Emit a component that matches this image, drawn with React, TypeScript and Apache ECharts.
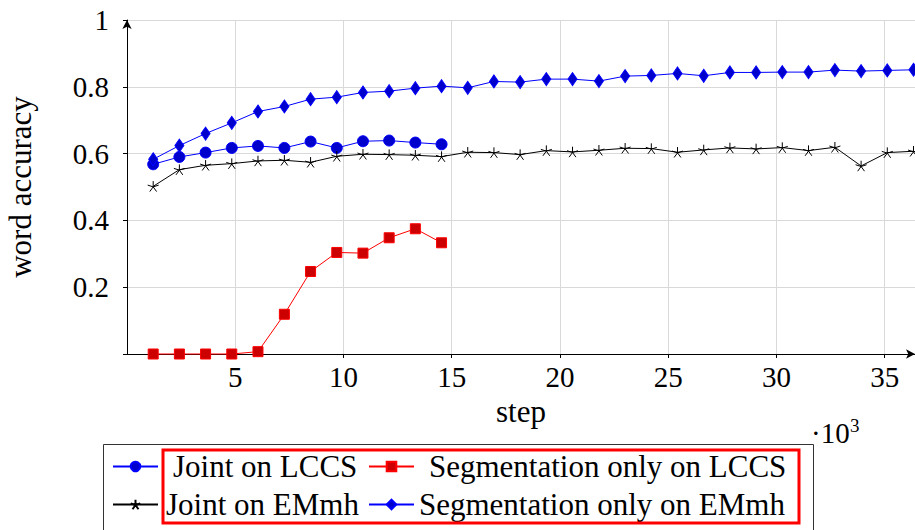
import React, { useEffect, useRef } from "react";
import * as echarts from "echarts";

// x positions (training step, in thousands) of the evaluated checkpoints
const steps = [
  1.21, 2.42, 3.63, 4.84, 6.05, 7.27, 8.48, 9.69, 10.9, 12.11, 13.32, 14.53, 15.74, 16.95, 18.16,
  19.37, 20.58, 21.8, 23.01, 24.22, 25.43, 26.64, 27.85, 29.06, 30.27, 31.48, 32.7, 33.91, 35.12, 36.33,
];

const jointLCCS = [0.568, 0.59, 0.603, 0.617, 0.623, 0.617, 0.636, 0.617, 0.637, 0.639, 0.633, 0.628];
const segLCCS = [0, 0, 0, 0, 0.007, 0.119, 0.247, 0.304, 0.302, 0.348, 0.375, 0.333];
const jointEMmh = [
  0.502, 0.552, 0.565, 0.57, 0.578, 0.58, 0.574, 0.592, 0.598, 0.597, 0.595, 0.591, 0.604, 0.603, 0.597,
  0.609, 0.605, 0.61, 0.616, 0.615, 0.604, 0.611, 0.617, 0.614, 0.618, 0.609, 0.619, 0.563, 0.603, 0.607,
];
const segEMmh = [
  0.583, 0.624, 0.66, 0.692, 0.726, 0.741, 0.763, 0.769, 0.783, 0.787, 0.796, 0.802, 0.797, 0.816, 0.814,
  0.823, 0.823, 0.817, 0.832, 0.834, 0.84, 0.833, 0.843, 0.843, 0.844, 0.844, 0.85, 0.847, 0.849, 0.851,
];

const seriesNames = [
  "Joint on LCCS",
  "Segmentation only on LCCS",
  "Joint on EMmh",
  "Segmentation only on EMmh",
];

const xTicks = [5, 10, 15, 20, 25, 30, 35];
const yTicks = [0.2, 0.4, 0.6, 0.8, 1];

const FONT = "Liberation Serif";
const STAR =
  "path://M0,-10 L0,0 M9.51,-3.09 L0,0 M5.88,8.09 L0,0 M-5.88,8.09 L0,0 M-9.51,-3.09 L0,0";

function pairs(vals: number[]) {
  return vals.map((v, i) => [steps[i], v]);
}

export default function App() {
  const ref = useRef<HTMLDivElement>(null);
  useEffect(() => {
    if (!ref.current) return;
    const chart = echarts.init(ref.current, undefined, { renderer: "svg" });
    const legendBase = {
      orient: "horizontal",
      padding: 0,
      itemWidth: 45,
      itemHeight: 12,
      textStyle: { fontFamily: FONT, fontSize: 31, color: "#000" },
    };
    chart.setOption({
      animation: false,
      backgroundColor: "#fff",
      grid: { left: 127, top: 20, right: 0, bottom: 176, containLabel: false, outerBoundsMode: "none" },
      xAxis: {
        type: "value",
        min: 0,
        max: 36.4,
        interval: 5,
        name: "step",
        nameLocation: "middle",
        nameGap: 39,
        nameTextStyle: { fontFamily: FONT, fontSize: 31, color: "#000" },
        axisLine: {
          show: true,
          onZero: false,
          symbol: ["none", "arrow"],
          symbolSize: [7, 9],
          lineStyle: { color: "#000", width: 1 },
        },
        axisTick: {
          show: true,
          length: 4,
          lineStyle: { color: "#000" },
          customValues: xTicks,
        },
        axisLabel: {
          fontFamily: FONT,
          fontSize: 29,
          color: "#000",
          margin: 8,
          customValues: xTicks,
          formatter: (v: number) => (xTicks.includes(v) ? String(v) : ""),
        },
        splitLine: { show: true, lineStyle: { color: "#d9d9d9", width: 1 } },
      },
      yAxis: {
        type: "value",
        min: 0,
        max: 1,
        interval: 0.2,
        name: "word accuracy",
        nameLocation: "middle",
        nameGap: 91,
        nameRotate: 90,
        nameTextStyle: { fontFamily: FONT, fontSize: 31, color: "#000" },
        axisLine: {
          show: true,
          onZero: false,
          symbol: ["none", "arrow"],
          symbolSize: [7, 9],
          lineStyle: { color: "#000", width: 1 },
        },
        axisTick: { show: true, length: 4, lineStyle: { color: "#000" } },
        axisLabel: {
          fontFamily: FONT,
          fontSize: 29,
          color: "#000",
          margin: 18,
          formatter: (v: number) => {
            const r = parseFloat(v.toFixed(1));
            return yTicks.includes(r) ? String(r) : "";
          },
        },
        splitLine: { show: true, lineStyle: { color: "#d9d9d9", width: 1 } },
      },
      legend: [
        { ...legendBase, data: [seriesNames[0]], left: 112, top: 451, textStyle: { ...legendBase.textStyle, padding: [0, 0, 0, 10] } },
        { ...legendBase, data: [seriesNames[1]], left: 368, top: 451, textStyle: { ...legendBase.textStyle, padding: [0, 0, 0, 10] } },
        { ...legendBase, data: [seriesNames[2]], left: 112, top: 489, textStyle: { ...legendBase.textStyle, padding: [0, 0, 0, 3] } },
        { ...legendBase, data: [seriesNames[3]], left: 368, top: 489, textStyle: { ...legendBase.textStyle, padding: [0, 0, 0, 0] } },
      ],
      graphic: [
        {
          type: "rect",
          shape: { x: 103.5, y: 444.5, width: 710, height: 120 },
          style: { fill: "none", stroke: "#333", lineWidth: 1 },
          silent: true,
        },
        {
          type: "rect",
          shape: { x: 163, y: 450, width: 636, height: 73 },
          style: { fill: "none", stroke: "#ff0000", lineWidth: 3 },
          silent: true,
          z: 100,
        },
        {
          type: "text",
          x: 811,
          y: 433,
          style: { text: "·10", fontFamily: FONT, fontSize: 29, fill: "#000", verticalAlign: "middle" },
        },
        {
          type: "text",
          x: 850,
          y: 425,
          style: { text: "3", fontFamily: FONT, fontSize: 19, fill: "#000", verticalAlign: "middle" },
        },
      ],
      series: [
        {
          name: seriesNames[0],
          type: "line",
          data: pairs(jointLCCS),
          symbol: "circle",
          symbolSize: 11,
          clip: false,
          lineStyle: { color: "#0000ff", width: 1 },
          itemStyle: { color: "#0000cc", borderColor: "#0000ff", borderWidth: 1 },
          z: 2,
        },
        {
          name: seriesNames[1],
          type: "line",
          data: pairs(segLCCS),
          symbol: "rect",
          symbolSize: 10,
          clip: false,
          lineStyle: { color: "#ff0000", width: 1 },
          itemStyle: { color: "#cc0000", borderColor: "#ff0000", borderWidth: 1 },
          z: 3,
        },
        {
          name: seriesNames[2],
          type: "line",
          data: pairs(jointEMmh),
          symbol: STAR,
          symbolSize: 11,
          symbolKeepAspect: true,
          clip: false,
          lineStyle: { color: "#000", width: 1 },
          itemStyle: { color: "#000", borderColor: "#000", borderWidth: 1 },
          z: 4,
        },
        {
          name: seriesNames[3],
          type: "line",
          data: pairs(segEMmh),
          symbol: "diamond",
          symbolSize: [9, 13],
          clip: false,
          lineStyle: { color: "#0000ff", width: 1 },
          itemStyle: { color: "#0000cc", borderColor: "#0000ff", borderWidth: 1 },
          z: 5,
        },
      ],
    });
    return () => chart.dispose();
  }, []);
  return (
    <div
      ref={ref}
      style={{ position: "fixed", left: 0, top: 0, width: 915, height: 530, background: "#fff" }}
    />
  );
}
